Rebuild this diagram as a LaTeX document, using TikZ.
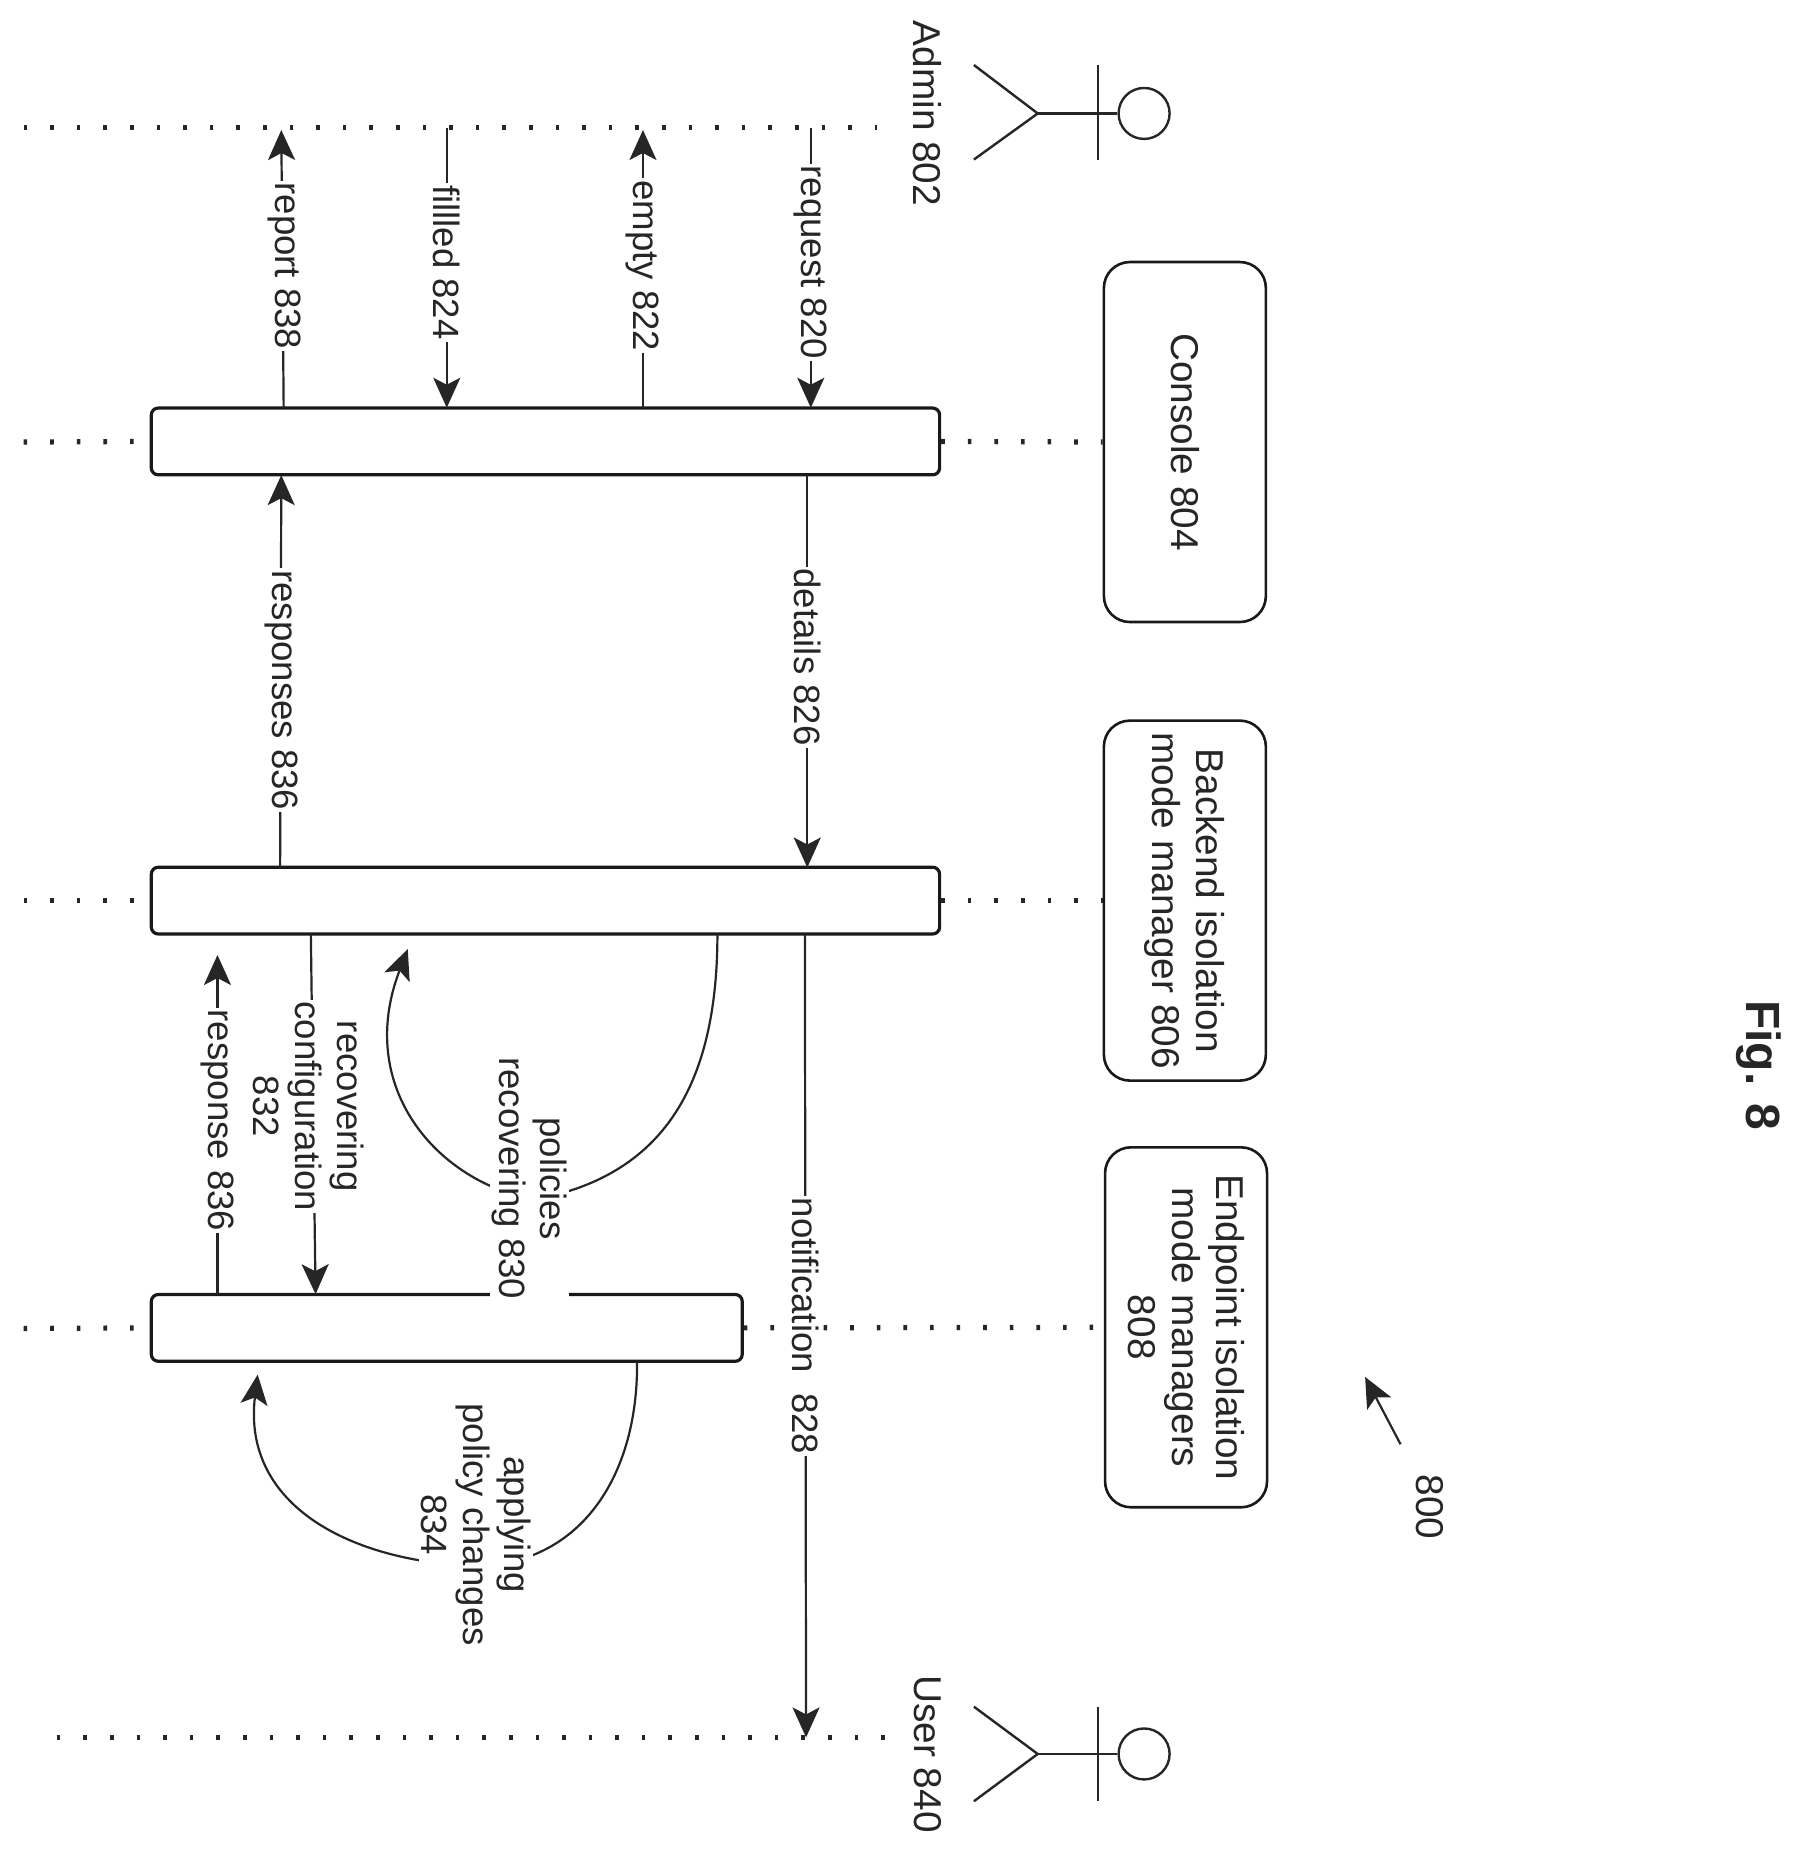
\documentclass[tikz,border=0pt]{standalone}
\usepackage{fontspec}
\setmainfont{Liberation Sans}
\usetikzlibrary{arrows.meta}
\tikzset{
 x=0.591pt,y=-0.591pt,
 conn/.style={line width=1.1pt,black!85},
 arr/.style={conn,-{Stealth[length=15pt,width=13.5pt,inset=3.5pt]}},
 life/.style={line width=2.6pt,dash pattern=on 1.8pt off 11.5pt,black!85},
 bar/.style={draw=black!90,line width=1.6pt,rounded corners=3.5pt,fill=white,inner sep=0pt},
 box/.style={draw=black!90,line width=1.3pt,rounded corners=13pt,inner sep=0pt,align=center,rotate=-90,text=black!85,font=\fontsize{19.4}{22}\selectfont,minimum width=180pt,minimum height=81pt},
 lbl/.style={fill=white,inner sep=1pt,align=center,rotate=-90,text=black!85,font=\fontsize{18.3}{20.8}\selectfont},
 actorline/.style={line width=1.2pt,black!85},
 toptext/.style={lbl,fill=none,font=\fontsize{19.4}{22}\selectfont}
}
\begin{document}
\begin{tikzpicture}
\useasboundingbox (0,0) rectangle (1520.4,1567.8);
% boxes
\node[box] (consolebox) at (1002.5,374) {Console 804};
\node[box] (backendbox) at (1002.5,762) {Backend isolation\\mode manager 806};
\node[box] (endpointbox) at (1003.5,1123) {Endpoint isolation\\mode managers\\808};
% bars
\node[bar,minimum width=394.2pt,minimum height=33.4pt] (cbar) at (461.5,373.5) {};
\node[bar,minimum width=394.2pt,minimum height=33.4pt] (bbar) at (461.5,762) {};
\node[bar,minimum width=295.5pt,minimum height=33.4pt] (ebar) at (378,1123.5) {};
% lifeline free ends
\coordinate (al) at (20,108); \coordinate (ar) at (742,108);
\coordinate (cl) at (20,374);
\coordinate (bl) at (20,762);
\coordinate (el) at (20,1124);
\coordinate (ul) at (48,1470); \coordinate (ur) at (752,1470);
\draw[life] (al) -- (ar);
\draw[life] (cl) -- (cbar.west);
\draw[life] (cbar.east) -- (consolebox.south);
\draw[life] (bl) -- (bbar.west);
\draw[life] (bbar.east) -- (backendbox.south);
\draw[life] (el) -- (ebar.west);
\draw[life] (ebar.east) -- (endpointbox.south);
\draw[life] (ul) -- (ur);
% connector ends
\coordinate (r1) at (240,345); \coordinate (r2) at (238,110);
\coordinate (f1) at (378,108); \coordinate (f2) at (378,345);
\coordinate (m1) at (544,345); \coordinate (m2) at (544,110);
\coordinate (q1) at (686,108); \coordinate (q2) at (686,345);
\coordinate (d1) at (683,402); \coordinate (d2) at (683,734);
\coordinate (s1) at (237,734); \coordinate (s2) at (238,402);
\coordinate (p1) at (184,1095); \coordinate (p2) at (184,808);
\coordinate (g1) at (263,790); \coordinate (g2) at (267,1095);
\coordinate (n1) at (681,790); \coordinate (n2) at (682,1470);
\coordinate (c1) at (607,790); \coordinate (c2) at (345,803);
\coordinate (h1) at (539,1152); \coordinate (h2) at (218,1163);
\draw[arr] (r1) -- (r2);
\draw[arr] (f1) -- (f2);
\draw[arr] (m1) -- (m2);
\draw[arr] (q1) -- (q2);
\draw[arr] (d1) -- (d2);
\draw[arr] (s1) -- (s2);
\draw[arr] (p1) -- (p2);
\draw[arr] (g1) -- (g2);
\draw[arr] (n1) -- (n2);
\draw[arr] (c1) .. controls (607,920) and (560,995) .. (452,1015) .. controls (370,1000) and (300,920) .. (c2);
\draw[arr] (h1) .. controls (540,1250) and (490,1325) .. (400,1325) .. controls (290,1320) and (205,1270) .. (h2);
% labels
\node[lbl] (lr) at (241,225) {report 838};
\node[lbl] (lf) at (378,222) {fillled 824};
\node[lbl] (lm) at (544,225) {empty 822};
\node[lbl] (lq) at (686,222) {request 820};
\node[lbl] (ld) at (683,556) {details 826};
\node[lbl] (ls) at (238,584) {responses 836};
\node[lbl] (lp) at (184,948) {response 836};
\node[lbl] (lg) at (261,936) {recovering\\configuration\\832};
\node[lbl] (lc) at (448,997) {policies\\recovering 830};
\node[lbl] (lh) at (403,1290) {applying\\policy changes\\834};
\node[lbl] (ln) at (682,1122) {notification\ \ 828};
% actors
\node[draw,circle,actorline,minimum size=25.5pt,inner sep=0pt] (ahead) at (968,96) {};
\coordinate (ahip) at (878,96); \coordinate (ab1) at (929,55); \coordinate (ab2) at (929,135);
\coordinate (al1) at (824,55); \coordinate (al2) at (824,135);
\draw[actorline] (ahead) -- (ahip);
\draw[actorline] (ab1) -- (ab2);
\draw[actorline] (al1) -- (ahip) -- (al2);
\node[toptext] (adminl) at (785,96) {Admin 802};
\node[draw,circle,actorline,minimum size=25.5pt,inner sep=0pt] (uhead) at (968,1484) {};
\coordinate (uhip) at (878,1484); \coordinate (ub1) at (929,1444); \coordinate (ub2) at (929,1524);
\coordinate (ul1) at (824,1444); \coordinate (ul2) at (824,1524);
\draw[actorline] (uhead) -- (uhip);
\draw[actorline] (ub1) -- (ub2);
\draw[actorline] (ul1) -- (uhip) -- (ul2);
\node[toptext] (userl) at (785,1484) {User 840};
% 800
\node[toptext] (l800) at (1210,1275) {800};
\coordinate (t1) at (1185,1222); \coordinate (t2) at (1155,1165);
\draw[arr] (t1) -- (t2);
% fig
\node[lbl,fill=none,font=\fontsize{24}{28}\selectfont\bfseries] (fig) at (1488,901) {Fig. 8};
\end{tikzpicture}
\end{document}
